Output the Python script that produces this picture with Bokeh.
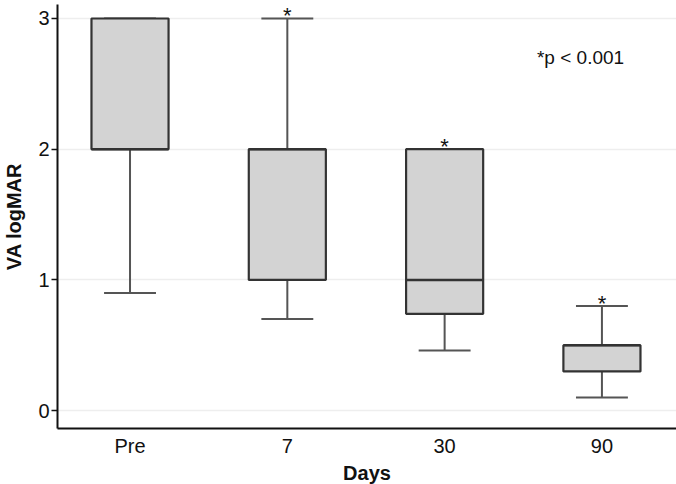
from bokeh.plotting import figure
from bokeh.models import FixedTicker, Range1d, Label
from bokeh.core.properties import value
from bokeh.embed import file_html
from bokeh.resources import INLINE

# Data
categories = ["Pre", "7", "30", "90"]
positions = [1, 2, 3, 4]
whisker_low = [0.9, 0.7, 0.46, 0.1]
q1 = [2.0, 1.0, 0.74, 0.3]
median = [2.0, 2.0, 1.0, 0.5]
q3 = [3.0, 2.0, 2.0, 0.5]
whisker_high = [3.0, 3.0, 2.0, 0.8]
significant = [False, True, True, True]
y_ticks = [0, 1, 2, 3]
note_text = "*p < 0.001"
note_pos = (3.864, 2.70)

FONT = "Liberation Sans"

p = figure(width=676, height=484, output_backend="svg", toolbar_location=None,
           frame_width=619, frame_height=424,
           x_range=Range1d(0.539, 4.474), y_range=Range1d(-0.137, 3.107),
           min_border_left=57, min_border_right=0, min_border_top=4, min_border_bottom=56)
p.outline_line_color = None
p.background_fill_color = "white"
p.border_fill_color = "white"

box_w = 0.49
cap_w = 0.33

# whiskers (vertical)
p.segment(x0=positions, y0=whisker_low, x1=positions, y1=q1, line_color="#555555", line_width=2)
p.segment(x0=positions, y0=q3, x1=positions, y1=whisker_high, line_color="#555555", line_width=2)
# caps
p.segment(x0=[x - cap_w / 2 for x in positions], y0=whisker_low,
          x1=[x + cap_w / 2 for x in positions], y1=whisker_low, line_color="#555555", line_width=2)
p.segment(x0=[x - cap_w / 2 for x in positions], y0=whisker_high,
          x1=[x + cap_w / 2 for x in positions], y1=whisker_high, line_color="#555555", line_width=2)
# boxes
p.vbar(x=positions, width=box_w, bottom=q1, top=q3, fill_color="#d3d3d3",
       line_color="#333333", line_width=2.2)
# medians
p.segment(x0=[x - box_w / 2 for x in positions], y0=median,
          x1=[x + box_w / 2 for x in positions], y1=median, line_color="#333333", line_width=2.5)

# significance stars
sx = [x for x, s in zip(positions, significant) if s]
sy = [y for y, s in zip(whisker_high, significant) if s]
p.text(x=sx, y=sy, text=["*"] * len(sx), text_font=value(FONT), text_font_size=value("22px"),
       text_align="center", text_baseline="alphabetic", y_offset=-3,
       text_color="#111111")

p.add_layout(Label(x=note_pos[0], y=note_pos[1], text=note_text, text_font=FONT,
                   text_font_size="19px", text_align="center", text_baseline="middle",
                   text_color="#111111"))

# axes
p.xaxis.ticker = FixedTicker(ticks=positions)
p.xaxis.major_label_overrides = {pos: c for pos, c in zip(positions, categories)}
p.xaxis.axis_label = "Days"
p.yaxis.axis_label = "VA logMAR"
p.yaxis.ticker = FixedTicker(ticks=y_ticks)

for ax in (p.xaxis[0], p.yaxis[0]):
    ax.axis_line_color = "#111111"
    ax.axis_line_width = 2
    ax.major_tick_line_color = "#111111"
    ax.major_tick_line_width = 1.5
    ax.minor_tick_line_color = None
    ax.major_label_text_font = FONT
    ax.major_label_text_font_size = "20px"
    ax.major_label_text_color = "#111111"
    ax.axis_label_text_font = FONT
    ax.axis_label_text_font_style = "bold"
    ax.axis_label_text_font_size = "20px"
    ax.axis_label_text_color = "#111111"

p.xaxis.major_tick_line_color = None
p.xaxis.major_tick_out = 0
p.xaxis.major_label_standoff = 6
p.xaxis.axis_label_standoff = 2
p.yaxis.major_tick_out = 6
p.yaxis.major_tick_in = 0
p.yaxis.major_label_standoff = 2
p.yaxis.axis_label_standoff = 10

p.xgrid.grid_line_color = None
p.ygrid.grid_line_color = "#eeeeee"
p.ygrid.grid_line_width = 1.5

open("out.html", "w").write(file_html(p, INLINE))
